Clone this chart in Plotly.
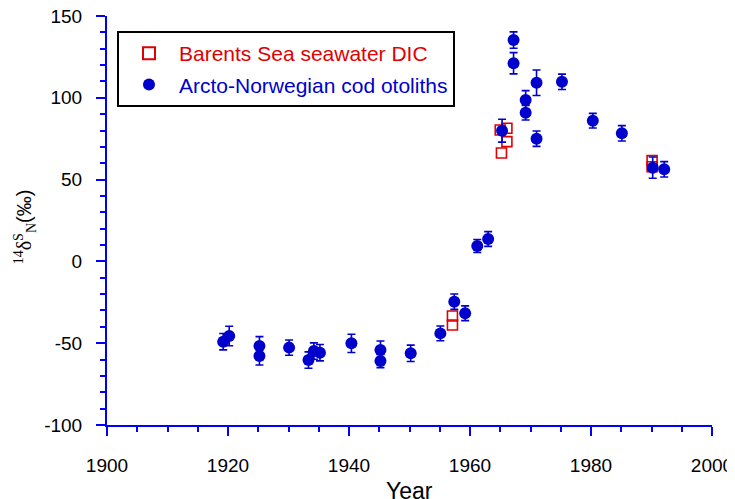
import plotly.graph_objects as go

# Arcto-Norwegian cod otoliths (blue filled circles with error bars)
cod_year = [1919.2, 1920.2, 1925.2, 1925.2, 1930.1, 1933.3, 1934.2, 1935.2, 1940.4,
            1945.2, 1945.2, 1950.2, 1955.1, 1957.4, 1959.2, 1961.2, 1963.0, 1965.3,
            1967.2, 1967.2, 1969.2, 1969.2, 1971.0, 1971.0, 1975.2, 1980.3, 1985.1,
            1990.2, 1992.1]
cod_val = [-49.1, -45.6, -51.7, -57.8, -52.7, -60.3, -54.8, -55.8, -50.1,
           -54.2, -60.9, -56.2, -44.0, -24.6, -31.7, 9.4, 13.7, 79.9,
           135.3, 121.1, 98.7, 90.9, 109.2, 75.0, 109.8, 86.0, 78.3,
           57.3, 56.3]
cod_err = [5, 6, 5.7, 5.5, 4.7, 5, 5, 5, 5.6,
           5.5, 4, 5, 4.5, 4.7, 4.5, 4, 4.5, 7,
           5, 6.5, 5.7, 4.5, 7.8, 4.7, 4.7, 4.5, 4.7,
           6.5, 4.7]

# Barents Sea seawater DIC (red open squares)
dic_year = [1957.1, 1957.1, 1965.0, 1965.2, 1966.1, 1966.1, 1990.1, 1990.1]
dic_val = [-33.4, -38.9, 80.3, 66.3, 73.2, 81.4, 61.6, 57.9]

x_ticks = [1900, 1920, 1940, 1960, 1980, 2000]
y_ticks = [-100, -50, 0, 50, 100, 150]

BLUE = "#0000cd"
AXIS = "#0000ff"
RED = "#e00000"
FONT = "Liberation Sans, Arial, sans-serif"

fig = go.Figure()
fig.add_trace(go.Scatter(
    x=dic_year, y=dic_val, mode="markers",
    name="<span style='color:#e00000'>Barents Sea seawater DIC</span>",
    legendgroup="a",
    marker=dict(symbol="square-open", size=10, color=RED, line=dict(width=1.6, color=RED)),
))
fig.add_trace(go.Scatter(
    x=cod_year, y=cod_val, mode="markers",
    name="<span style='color:#0000cd'>Arcto-Norwegian cod otoliths</span>",
    legendgroup="b",
    marker=dict(symbol="circle", size=12, color=BLUE),
    error_y=dict(type="data", array=cod_err, visible=True, color=BLUE, thickness=1.6, width=4),
))

axis_common = dict(
    showgrid=False, zeroline=False, showline=True, linecolor=AXIS, linewidth=2,
    ticks="outside", tickcolor=AXIS, tickwidth=2, ticklen=9, automargin=False,
    ticklabeloverflow="allow",
    tickfont=dict(family=FONT, size=19, color="black"),
)

fig.update_xaxes(range=[1900, 2000], tickvals=x_ticks, ticktext=[str(v) for v in x_ticks],
                 minor=dict(dtick=5, tick0=1900, ticks="outside", ticklen=5, tickcolor=AXIS, tickwidth=2),
                 ticklabelstandoff=13, **axis_common)
fig.update_yaxes(range=[-100, 150], tickvals=y_ticks, ticktext=[str(v) for v in y_ticks],
                 minor=dict(dtick=10, tick0=0, ticks="outside", ticklen=5, tickcolor=AXIS, tickwidth=2),
                 ticklabelstandoff=10, **axis_common)

fig.add_annotation(text="Year", xref="paper", yref="paper", x=0.5, y=0, yshift=-66,
                   showarrow=False, xanchor="center", yanchor="middle",
                   font=dict(family=FONT, size=23, color="black"))
fig.add_annotation(
    text="<span style='font-family:Liberation Serif'><sup>14</sup>δ<sup>S</sup><sub>N</sub></span>(‰)",
    xref="paper", yref="paper", x=-0.136, y=0.485, textangle=-90, showarrow=False,
    xanchor="center", yanchor="middle", font=dict(family=FONT, size=20, color="black"))

# page body has an 8px margin, so the figure is sized/offset to compensate
fig.update_layout(
    width=727, height=491,
    margin=dict(l=99, r=23, t=8, b=74, autoexpand=False),
    plot_bgcolor="white", paper_bgcolor="white",
    showlegend=True,
    legend=dict(x=0.0165, y=0.963, xanchor="left", yanchor="top",
                bordercolor="black", borderwidth=2, bgcolor="white",
                font=dict(family=FONT, size=21), tracegroupgap=1,
                itemwidth=50, itemsizing="constant"),
)

fig.write_html("out.html")
